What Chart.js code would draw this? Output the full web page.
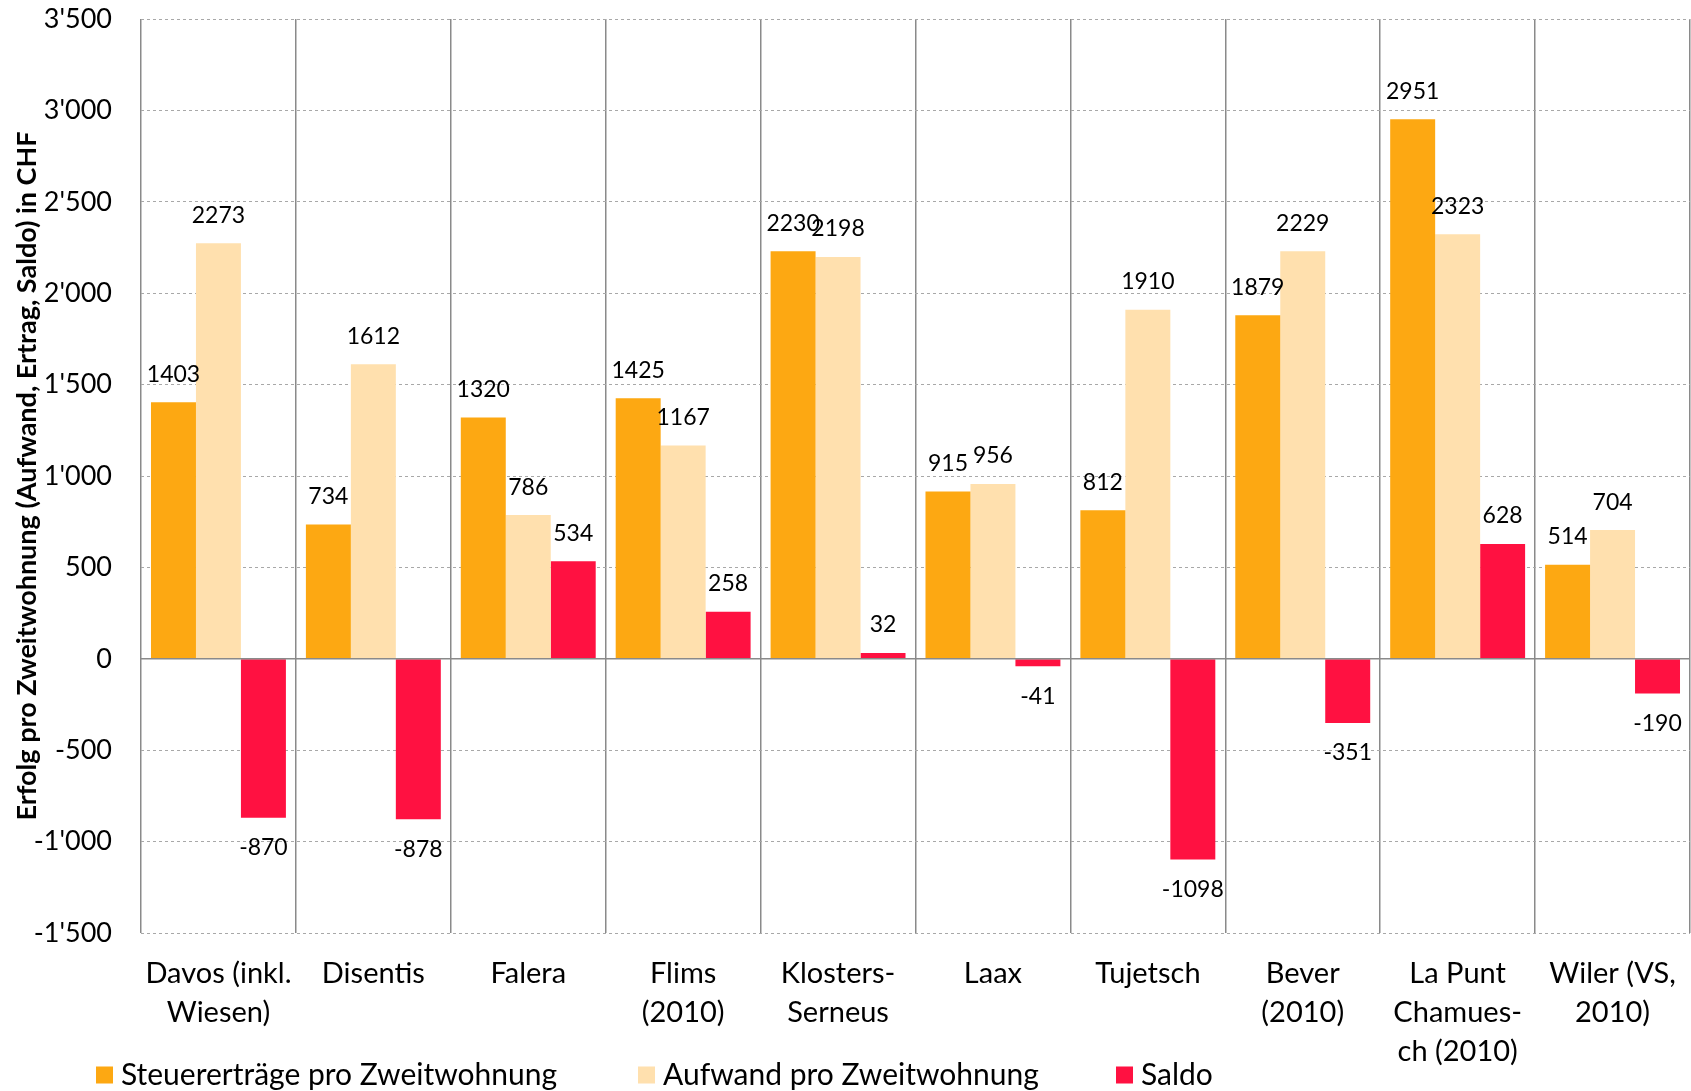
<!DOCTYPE html>
<html>
<head>
<meta charset="utf-8">
<script src="https://cdn.jsdelivr.net/npm/chart.js@4"></script>
<style>
  html, body { margin: 0; padding: 0; background: #fff; }
</style>
</head>
<body>
<canvas id="chart" width="1691" height="1091"></canvas>
<script>
const categories = [
  ["Davos (inkl.", "Wiesen)"], "Disentis", "Falera", ["Flims", "(2010)"],
  ["Klosters-", "Serneus"], "Laax", "Tujetsch", ["Bever", "(2010)"],
  ["La Punt", "Chamues-", "ch (2010)"], ["Wiler (VS,", "2010)"]
];
const steuerertraege = [1403, 734, 1320, 1425, 2230, 915, 812, 1879, 2951, 514];
const aufwand = [2273, 1612, 786, 1167, 2198, 956, 1910, 2229, 2323, 704];
const saldo = [-870, -878, 534, 258, 32, -41, -1098, -351, 628, -190];

const seriesNames = ["Steuererträge pro Zweitwohnung", "Aufwand pro Zweitwohnung", "Saldo"];
const seriesColors = ["#FDA812", "#FFE0AE", "#FF1141"];
const yMin = -1500, yMax = 3500, yStep = 500;

const FONT = "Lato, 'Open Sans', sans-serif";

function swissFormat(v) {
  const s = Math.abs(v).toString().replace(/\B(?=(\d{3})+(?!\d))/g, "'");
  return (v < 0 ? "-" : "") + s;
}

// value labels above / below each bar
const valueLabels = {
  id: "valueLabels",
  afterDatasetsDraw(chart) {
    const ctx = chart.ctx;
    ctx.save();
    ctx.font = "23px " + FONT;
    ctx.fillStyle = "#000";
    ctx.textAlign = "center";
    ctx.textBaseline = "middle";
    chart.data.datasets.forEach((ds, i) => {
      chart.getDatasetMeta(i).data.forEach((bar, j) => {
        const v = ds.data[j];
        const y = v >= 0 ? bar.y - 28 : bar.y + 30;
        ctx.fillText(String(v), bar.x, y);
      });
    });
    ctx.restore();
  }
};

// solid zero line drawn over the bars
const zeroLine = {
  id: "zeroLine",
  afterDatasetsDraw(chart) {
    const { ctx, chartArea, scales } = chart;
    const y = scales.y.getPixelForValue(0);
    ctx.save();
    ctx.strokeStyle = "#8a8a8a";
    ctx.lineWidth = 1.5;
    ctx.beginPath();
    ctx.moveTo(chartArea.left, y);
    ctx.lineTo(chartArea.right, y);
    ctx.stroke();
    ctx.restore();
  }
};

// legend row under the category labels
const bottomLegend = {
  id: "bottomLegend",
  afterDraw(chart) {
    const ctx = chart.ctx;
    const xs = [96, 638, 1116];
    const yc = 1075;
    ctx.save();
    ctx.font = "30px " + FONT;
    ctx.textBaseline = "middle";
    ctx.textAlign = "left";
    chart.data.datasets.forEach((ds, i) => {
      ctx.fillStyle = ds.backgroundColor;
      ctx.fillRect(xs[i], yc - 8.5, 17, 17);
      ctx.fillStyle = "#000";
      ctx.fillText(ds.label, xs[i] + 25, yc);
    });
    ctx.restore();
  }
};

new Chart(document.getElementById("chart"), {
  type: "bar",
  data: {
    labels: categories,
    datasets: [
      { label: seriesNames[0], data: steuerertraege, backgroundColor: seriesColors[0] },
      { label: seriesNames[1], data: aufwand, backgroundColor: seriesColors[1] },
      { label: seriesNames[2], data: saldo, backgroundColor: seriesColors[2] }
    ]
  },
  options: {
    responsive: false,
    animation: false,
    devicePixelRatio: 1,
    layout: { padding: { top: 0, right: 1, bottom: 0, left: 0 } },
    datasets: { bar: { categoryPercentage: 0.871, barPercentage: 1.0 } },
    plugins: {
      legend: { display: false },
      tooltip: { enabled: false }
    },
    scales: {
      x: {
        afterFit(scale) {
          scale.height = 158;
          scale.paddingLeft = 0;
          scale.paddingRight = 0;
        },
        grid: {
          offset: true,
          drawTicks: false,
          lineWidth: 1.5,
          color: c => c.index === categories.length ? "#d6d6d6" : "#8a8a8a"
        },
        border: { display: false },
        ticks: {
          color: "#000",
          padding: 21,
          maxRotation: 0,
          autoSkip: false,
          font: { family: FONT, size: 29, lineHeight: 1.345 }
        }
      },
      y: {
        min: yMin,
        max: yMax,
        afterFit(scale) {
          scale.width = 141;
          scale.paddingTop = 19;
          scale.paddingBottom = 16;
        },
        grid: {
          drawTicks: false,
          lineWidth: 1,
          color: c => c.tick && c.tick.value === 0 ? "rgba(0,0,0,0)" : "#a8a8a8"
        },
        border: { display: false, dash: [3, 3] },
        ticks: {
          stepSize: yStep,
          color: "#000",
          padding: 29,
          font: { family: FONT, size: 27 },
          callback: v => swissFormat(v)
        },
        title: {
          display: true,
          text: "Erfolg pro Zweitwohnung (Aufwand, Ertrag, Saldo) in CHF",
          color: "#000",
          padding: { top: 11, bottom: 0 },
          font: { family: FONT, size: 27, weight: "bold" }
        }
      }
    }
  },
  plugins: [valueLabels, zeroLine, bottomLegend]
});
</script>
</body>
</html>
